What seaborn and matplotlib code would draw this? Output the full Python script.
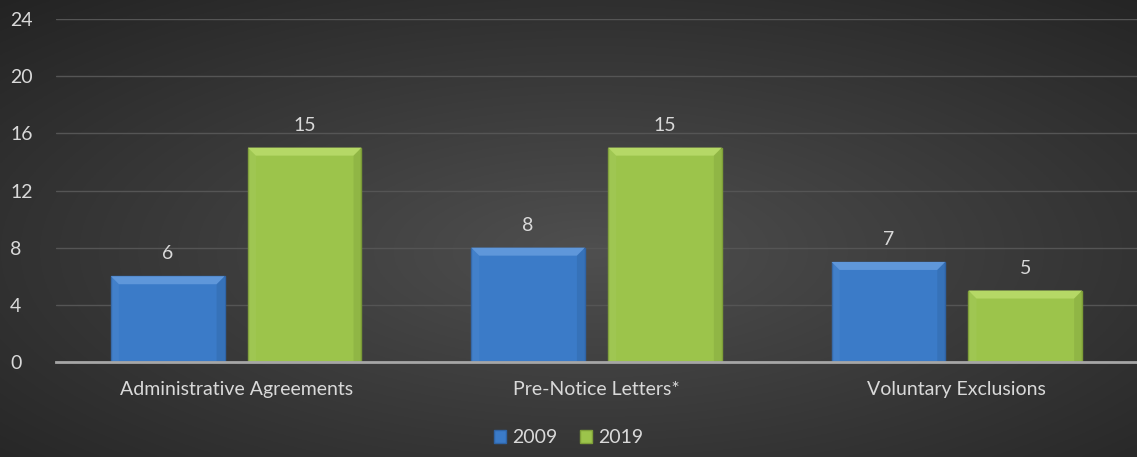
import numpy as np
import pandas as pd
import matplotlib
matplotlib.use("Agg")
import matplotlib.pyplot as plt
from matplotlib.patches import Polygon
import seaborn as sns

categories = ["Administrative Agreements", "Pre-Notice Letters*", "Voluntary Exclusions"]
years = ["2009", "2019"]
values_2009 = [6, 8, 7]
values_2019 = [15, 15, 5]
y_ticks = [0, 4, 8, 12, 16, 20, 24]

df = pd.DataFrame({
    "category": categories * 2,
    "year": [years[0]] * 3 + [years[1]] * 3,
    "value": values_2009 + values_2019,
})

sns.set_theme(style="dark")
plt.rcParams["font.family"] = ["Lato", "DejaVu Sans"]

text_color = "#d9d9d9"
fs = 14
palette = {"2009": "#3b7bc8", "2019": "#9cc44b"}
edge = {"2009": "#2f64a6", "2019": "#7e9f38"}
light = {"2009": "#5f97da", "2019": "#b5d866"}

fig = plt.figure(figsize=(11.37, 4.57), dpi=100)

# radial background shading
bg = fig.add_axes([0, 0, 1, 1], zorder=0)
yy, xx = np.mgrid[0:1:300j, 0:1:700j]
r = np.sqrt(((xx - 0.52) / 0.75) ** 2 + ((yy - 0.55) / 0.75) ** 2)
shade = np.clip(0.31 - 0.17 * r, 0.14, 0.31)
bg.imshow(np.dstack([shade] * 3), aspect="auto", extent=[0, 1, 0, 1])
bg.axis("off")

ax = fig.add_axes([0.0493, 0.2079, 0.9507, 0.7505], zorder=1)
ax.set_facecolor("none")

sns.barplot(data=df, x="category", y="value", hue="year", order=categories,
            hue_order=years, palette=palette, width=0.76, gap=0.17,
            saturation=1, ax=ax, legend=False, zorder=3)

ax.set_xlim(-0.5, 2.5)
ax.set_ylim(0, 24)
ax.set_yticks(y_ticks)
ax.grid(axis="y", color="#555555", linewidth=1.0, zorder=0)
ax.grid(axis="x", visible=False)
for s in ["top", "right", "left"]:
    ax.spines[s].set_visible(False)
ax.spines["bottom"].set_color("#a6a6a6")
ax.spines["bottom"].set_linewidth(2)
ax.spines["bottom"].set_zorder(5)
ax.tick_params(axis="y", colors=text_color, labelsize=fs, length=0, pad=33)
ax.tick_params(axis="x", colors=text_color, labelsize=fs, length=0, pad=14)
for lbl in ax.get_yticklabels():
    lbl.set_horizontalalignment("left")
ax.set_xlabel("")
ax.set_ylabel("")

# bevelled bar faces and value labels
bev_px = 8
for container, yr in zip(ax.containers, years):
    for bar in container:
        bar.set_edgecolor(edge[yr])
        bar.set_linewidth(1.0)
        x0, w, h = bar.get_x(), bar.get_width(), bar.get_height()
        inv = ax.transData.inverted()
        p0 = inv.transform((0, 0))
        p1 = inv.transform((bev_px, bev_px))
        dx, dy = p1[0] - p0[0], p1[1] - p0[1]
        top = Polygon([(x0, h), (x0 + w, h), (x0 + w - dx, h - dy), (x0 + dx, h - dy)],
                      closed=True, facecolor=light[yr], edgecolor="none", zorder=4)
        ax.add_patch(top)
        left = Polygon([(x0, h), (x0 + dx, h - dy), (x0 + dx, 0), (x0, 0)],
                       closed=True, facecolor="white", alpha=0.04, edgecolor="none", zorder=4)
        ax.add_patch(left)
        right = Polygon([(x0 + w, h), (x0 + w - dx, h - dy), (x0 + w - dx, 0), (x0 + w, 0)],
                        closed=True, facecolor="black", alpha=0.07, edgecolor="none", zorder=4)
        ax.add_patch(right)
    ax.bar_label(container, labels=[f"{v:g}" for v in container.datavalues],
                 padding=10, color=text_color, fontsize=fs)

# legend
handles = [plt.Rectangle((0, 0), 1, 1, facecolor=palette[y], edgecolor=edge[y]) for y in years]
fig.legend(handles, years, loc="lower center", bbox_to_anchor=(0.5, -0.015), ncol=2,
           frameon=False, fontsize=fs, labelcolor=text_color, handlelength=0.6,
           handleheight=0.6, handletextpad=0.3, columnspacing=1.2)

fig.savefig("out.png", dpi=100)
